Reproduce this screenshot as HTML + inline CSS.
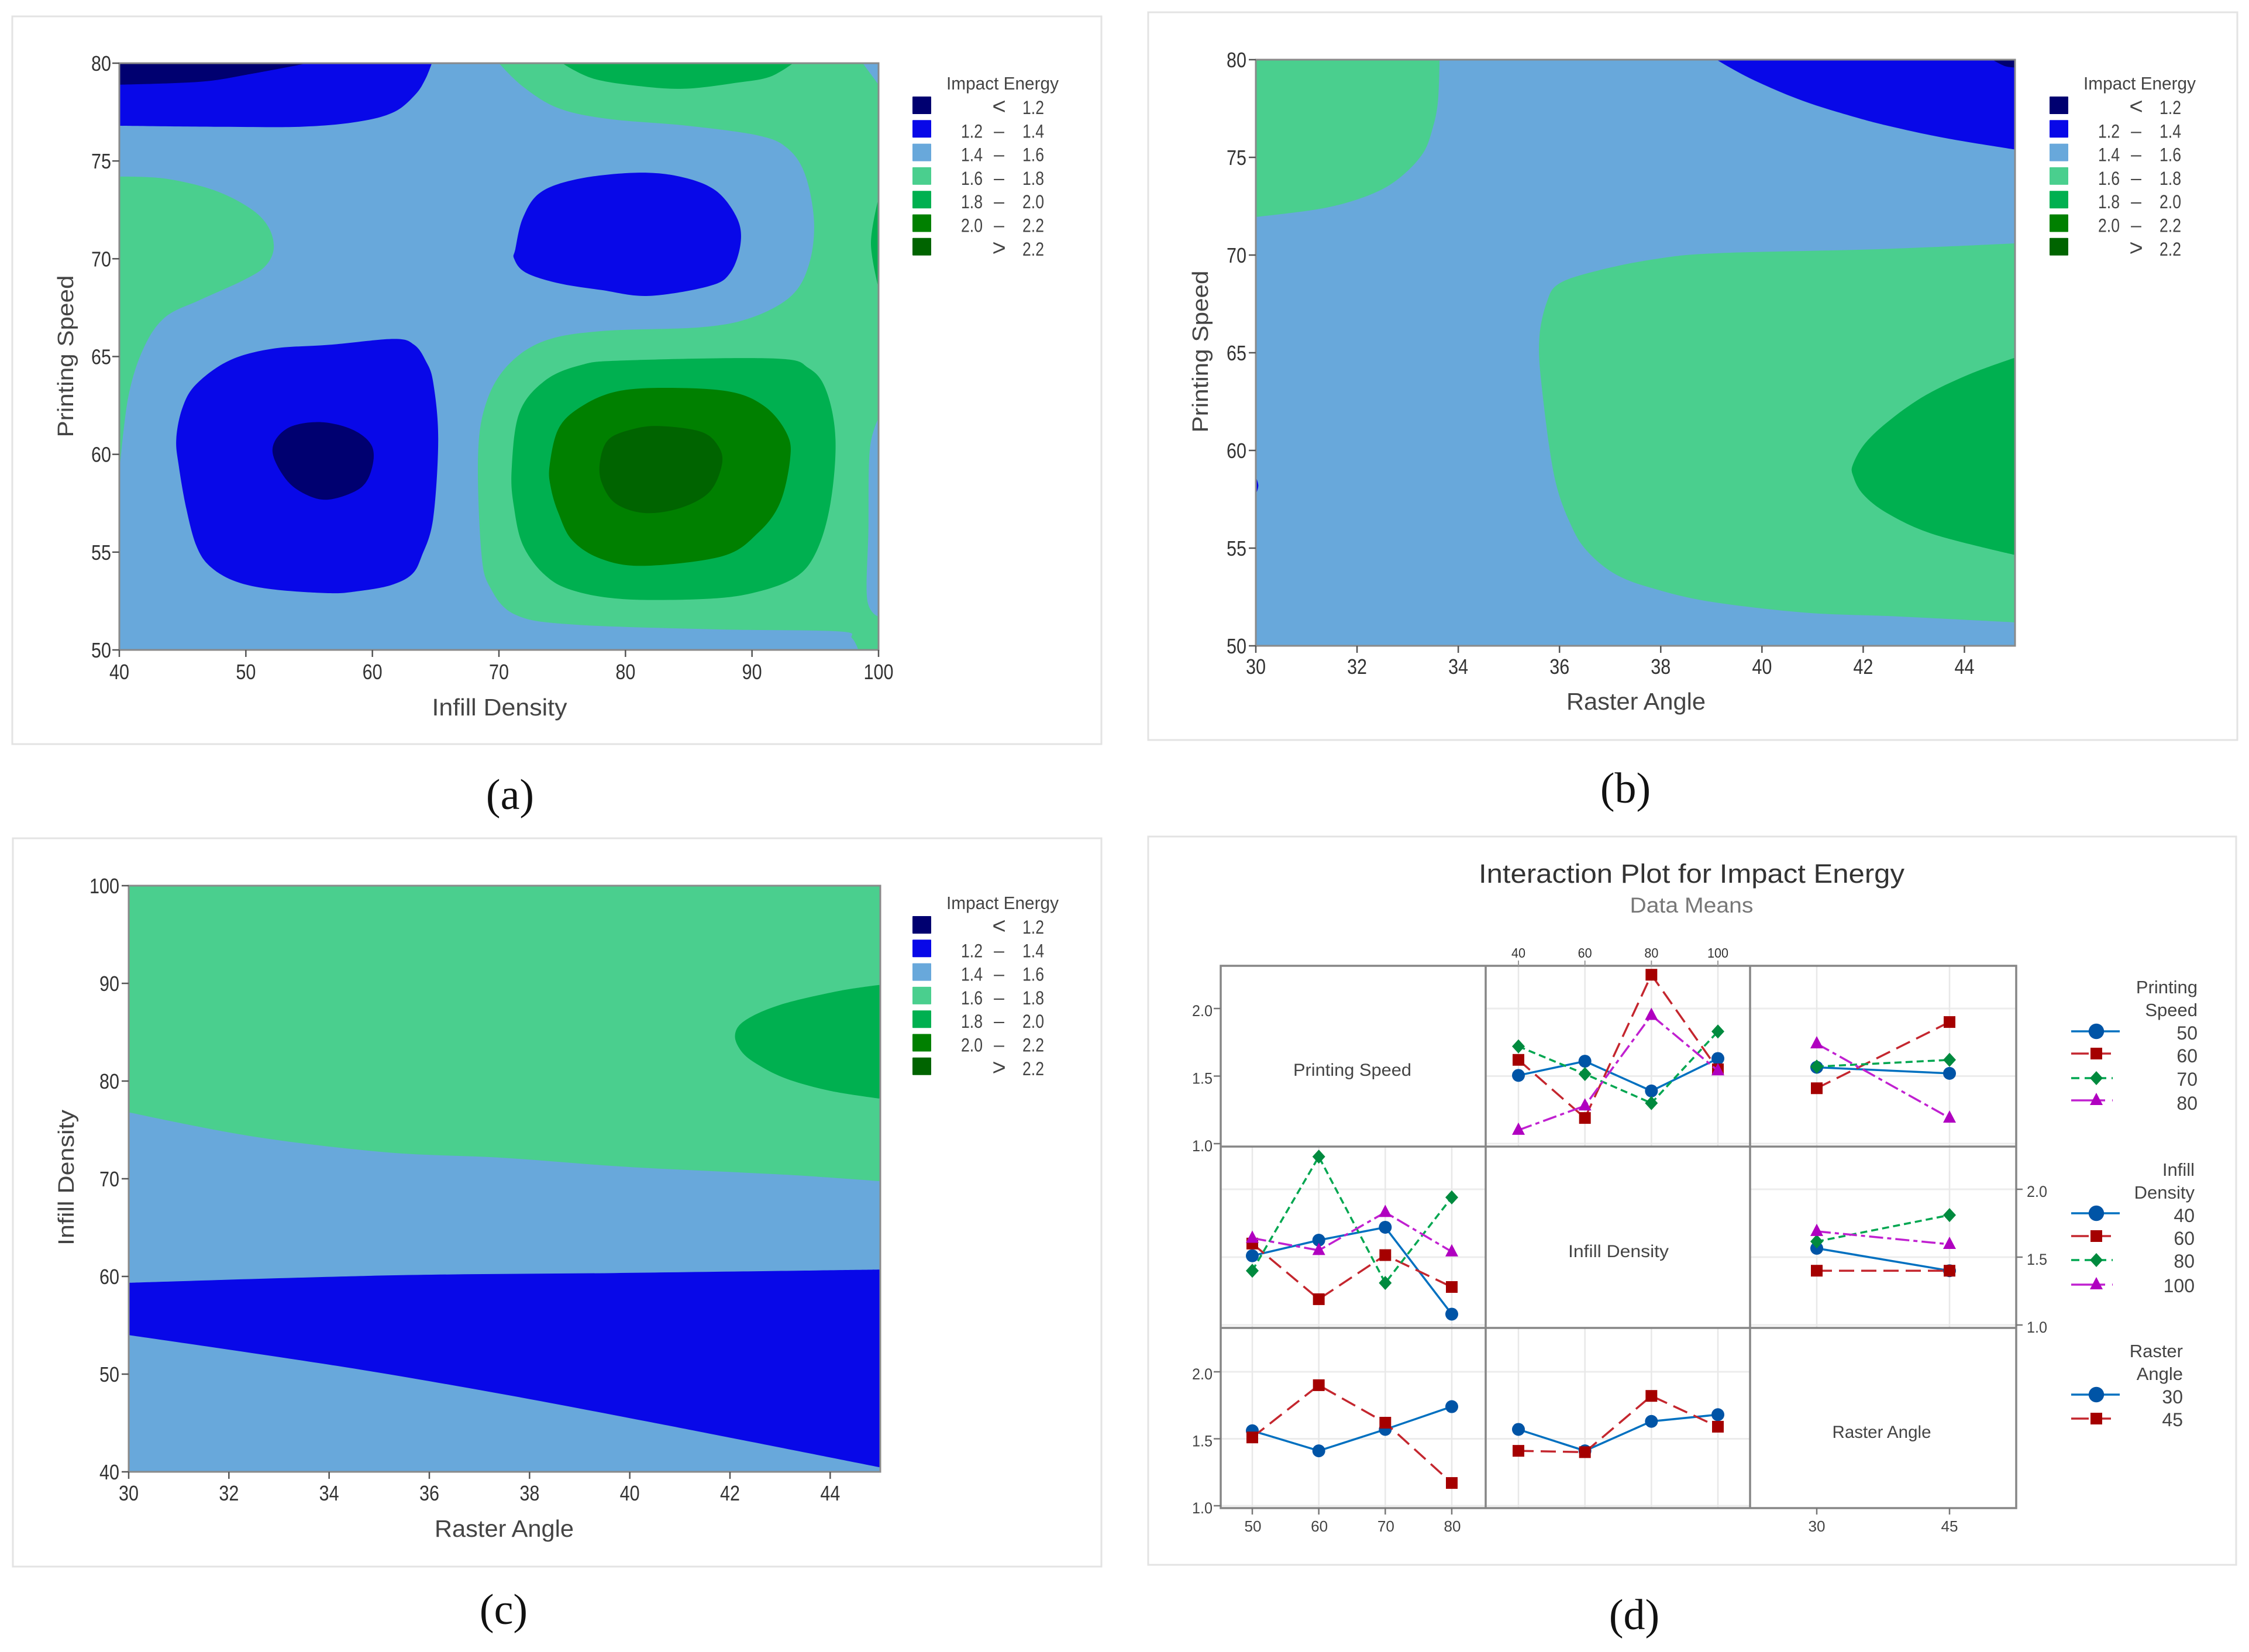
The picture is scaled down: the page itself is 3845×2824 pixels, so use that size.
<!DOCTYPE html>
<html lang="en">
<head>
<meta charset="utf-8">
<title>Impact Energy Contour and Interaction Plots</title>
<style>
html,body{margin:0;padding:0;background:#fff;}
svg{display:block;}
text{font-family:"Liberation Sans",sans-serif;}
.cap{font-family:"Liberation Serif",serif;font-size:74px;fill:#111;text-anchor:middle;}
.axt{font-size:41px;fill:#444;}
.cen{font-size:30px;fill:#444;}
.leg{font-size:31px;fill:#444;text-anchor:end;}
</style>
</head>
<body>
<svg id="fig" width="3845" height="2824" viewBox="0 0 3845 2824" xmlns="http://www.w3.org/2000/svg">
<rect x="0" y="0" width="3845" height="2824" fill="#fff"/>
<rect x="21" y="28" width="1862" height="1244" fill="#fff" stroke="#e3e3e3" stroke-width="3"/>
<rect x="1963" y="21" width="1862" height="1244" fill="#fff" stroke="#e3e3e3" stroke-width="3"/>
<rect x="22" y="1433" width="1861" height="1245" fill="#fff" stroke="#e3e3e3" stroke-width="3"/>
<rect x="1963" y="1430" width="1860" height="1245" fill="#fff" stroke="#e3e3e3" stroke-width="3"/>

<g id="layer-a"></g>
<g id="layer-b"></g>
<g id="layer-c"></g>
<g id="layer-d"></g>

<text class="axt" x="854" y="1223" text-anchor="middle" textLength="231" lengthAdjust="spacingAndGlyphs">Infill Density</text>
<text class="axt" transform="translate(125 609) rotate(-90)" text-anchor="middle" textLength="277" lengthAdjust="spacingAndGlyphs" style="font-size:38px">Printing Speed</text>
<text class="axt" x="2797" y="1213" text-anchor="middle" textLength="238" lengthAdjust="spacingAndGlyphs">Raster Angle</text>
<text class="axt" transform="translate(2065 601) rotate(-90)" text-anchor="middle" textLength="277" lengthAdjust="spacingAndGlyphs" style="font-size:38px">Printing Speed</text>
<text class="axt" x="862" y="2627" text-anchor="middle" textLength="238" lengthAdjust="spacingAndGlyphs">Raster Angle</text>
<text class="axt" transform="translate(126 2013) rotate(-90)" text-anchor="middle" textLength="232" lengthAdjust="spacingAndGlyphs" style="font-size:38px">Infill Density</text>

<text class="cap" x="872" y="1383">(a)</text>
<text class="cap" x="2779" y="1372">(b)</text>
<text class="cap" x="861" y="2776">(c)</text>
<text class="cap" x="2794" y="2785">(d)</text>

<text x="2892" y="1509" text-anchor="middle" font-size="45" fill="#333" textLength="728" lengthAdjust="spacingAndGlyphs">Interaction Plot for Impact Energy</text>
<text x="2892" y="1560" text-anchor="middle" font-size="37" fill="#777" textLength="211" lengthAdjust="spacingAndGlyphs">Data Means</text>

<text class="cen" x="2312" y="1839" text-anchor="middle" textLength="202" lengthAdjust="spacingAndGlyphs">Printing Speed</text>
<text class="cen" x="2767" y="2149" text-anchor="middle" textLength="172" lengthAdjust="spacingAndGlyphs">Infill Density</text>
<text class="cen" x="3217" y="2458" text-anchor="middle" textLength="169" lengthAdjust="spacingAndGlyphs">Raster Angle</text>

<text class="leg" x="3757" y="1698">Printing</text>
<text class="leg" x="3757" y="1737">Speed</text>
<text class="leg" x="3752" y="2010">Infill</text>
<text class="leg" x="3752" y="2049">Density</text>
<text class="leg" x="3732" y="2320">Raster</text>
<text class="leg" x="3732" y="2359">Angle</text>
</svg>

<script>
// ---------- contour legend data ----------
const contourColors = ['#000070', '#0808E8', '#68A8DB', '#4ACF8E', '#00B050', '#008000', '#006400'];
const legendLow = ['', '1.2', '1.4', '1.6', '1.8', '2.0', ''];
const legendMid = ['<', '–', '–', '–', '–', '–', '>'];
const legendHigh = ['1.2', '1.4', '1.6', '1.8', '2.0', '2.2', '2.2'];

// ---------- panel (a) contour boundaries: [infill density, printing speed] ----------
const aXTicks = [40, 50, 60, 70, 80, 90, 100];
const aYTicks = [50, 55, 60, 65, 70, 75, 80];
const aBlueTop = [[40,76.8],[47.5,76.75],[54.3,76.75],[58.8,77],[61.7,77.5],[63.4,78.4],[64.2,79.2],[64.7,80],[40,80]];
const aNavyTop = [[40,78.9],[46.4,79.05],[50.4,79.45],[54.9,80],[40,80]];
const aGreenLeft = [[40,74.2],[43.6,74.1],[47.5,73.5],[50.4,72.55],[51.8,71.6],[52.2,70.5],[51.5,69.6],[49.8,68.9],[46.4,67.9],[43.6,67],[41.9,65.4],[40.7,62.9],[40,59.1]];
const aBlueOval = [[71.3,70.5],[71.9,72.1],[73.3,73.4],[76.4,74.1],[80.9,74.4],[84.3,74.2],[87.1,73.5],[88.8,72.1],[89.1,70.8],[88.3,69.3],[86.6,68.6],[81.8,68.1],[78.1,68.4],[74.7,68.75],[72.1,69.3],[71.2,70]];
const aBlueLower = [[44.5,60.8],[45,62.4],[46.1,63.6],[48.7,64.8],[52.1,65.4],[56.6,65.6],[61.7,65.9],[63.3,65.6],[64.2,64.8],[64.8,63.7],[65.2,60.8],[64.8,56.7],[63.9,54.8],[63.1,53.85],[61.4,53.3],[58.8,53],[56.6,52.9],[52.1,53.1],[49.2,53.5],[47.2,54.25],[46.1,55.3],[45.3,57.2],[44.7,59.4]];
const aNavyBlob = [[52.1,60.2],[53.2,61.3],[55.7,61.65],[58.3,61.3],[59.9,60.5],[60,59.4],[59.1,58.3],[56.7,57.7],[54.9,57.9],[53.2,58.7]];
const aGreenMain = [[70,80],[71.9,78.8],[74.7,77.7],[78.65,77.15],[84.9,76.8],[90.5,76.3],[92.8,75.65],[94.2,74.3],[94.9,71.9],[94.5,69.7],[93.1,68.1],[90,67],[86,66.5],[78.1,66.3],[73.6,65.8],[70.7,64.55],[69,62.65],[68.35,59.95],[68.6,55.05],[69.3,53.2],[71.3,51.8],[75.8,51.3],[87.1,51.05],[96.8,50.95],[97.9,50.6],[98.4,50],[100,50],[100,78.9],[98.75,80]];
const aSliver = [[100,61.85],[99.3,60.2],[99.2,56.15],[99.1,52.6],[100,51.7]];
const aGreenTop = [[75,80],[77.5,79.2],[81.5,78.8],[84.9,78.7],[88.8,79],[91.4,79.3],[93.25,80]];
const aGreenEdge = [[100,73.1],[99.4,70.8],[100,68.5]];
const aLevel18 = [[71,59.15],[71.6,62.1],[73.6,63.75],[76.4,64.55],[79.8,64.8],[91.7,64.9],[94.5,64.4],[95.9,63.2],[96.6,60.75],[96.2,57.5],[95.1,55.05],[93.4,53.7],[90,52.9],[86,52.6],[79.8,52.6],[75.8,53.05],[73.6,53.85],[71.9,55.35],[71.2,57.25]];
const aLevel20 = [[74,59.4],[74.7,61.3],[76.4,62.4],[79.2,63.2],[83.2,63.4],[88.3,63.2],[91.1,62.4],[92.8,61],[93,59.7],[92.2,57.5],[90.5,56],[87.7,54.8],[81.5,54.3],[78.1,54.65],[75.8,55.6],[74.7,57],[74.1,58.3]];
const aLevel22 = [[78,59.7],[78.65,60.75],[80.35,61.25],[82.6,61.45],[86,61.15],[87.4,60.35],[87.6,59.4],[86.6,58.05],[84.3,57.25],[81.5,57],[79.2,57.5],[78.1,58.6]];

// ---------- panel (b) contour boundaries: [raster angle, printing speed] ----------
const bXTicks = [30, 32, 34, 36, 38, 40, 42, 44];
const bYTicks = [50, 55, 60, 65, 70, 75, 80];
const bGreenTop = [[30,80],[33.63,80],[33.6,77.9],[33.5,76.55],[33.3,75.2],[32.84,73.95],[32.27,73.1],[31.35,72.4],[30,71.95]];
const bBlueTop = [[39.1,80],[39.8,79],[40.8,77.9],[41.85,77.05],[42.6,76.55],[43.7,75.95],[45,75.4],[45,80]];
const bNavyCorner = [[44.55,80],[44.8,79.67],[45,79.6],[45,80]];
const bGreenMain = [[45,70.6],[42.3,70.3],[39.15,70.1],[37.9,69.8],[36.75,69.2],[36,68.55],[35.75,67.6],[35.6,65.7],[35.65,63.25],[35.9,58.65],[36.25,56.05],[36.6,54.7],[37.15,53.6],[37.9,52.9],[39,52.25],[40.85,51.7],[42.7,51.5],[45,51.2]];
const bLevel18 = [[45,64.75],[44.1,63.9],[43.25,62.85],[42.55,61.6],[42.05,60.4],[41.8,59.3],[41.8,58.7],[42,57.75],[42.5,56.75],[43.4,55.7],[45,54.65]];
const bBlueDot = [[30,58.65],[30.05,58.2],[30,57.75]];

// ---------- panel (c) contour boundaries: [raster angle, infill density] ----------
const cXTicks = [30, 32, 34, 36, 38, 40, 42, 44];
const cYTicks = [40, 50, 60, 70, 80, 90, 100];
const cGreenMain = [[30,100],[45,100],[45,69.75],[43.15,70.4],[40,71.2],[37.45,72.15],[35.15,72.7],[32.45,74.35],[30,76.8]];
const cBlueBand = [[30,59.35],[35.15,60.1],[39.7,60.35],[45,60.7],[45,40.45],[42,43.5],[40,45.5],[37.3,48.1],[34.15,50.85],[30,54]];
const cLevel18 = [[45,89.85],[44.15,89.2],[43,87.8],[42.3,86.2],[42.1,84.65],[42.25,82.9],[42.6,81.55],[43.15,80.2],[44,79],[45,78.2]];

// ---------- panel (d) interaction means ----------
const speedLevels = [50, 60, 70, 80];
const infillLevels = [40, 60, 80, 100];
const rasterLevels = [30, 45];
const gridValues = [1.0, 1.5, 2.0];
const sideTicks = ['1.0', '1.5', '2.0'];

const infillAtSpeed50 = [1.505, 1.61, 1.39, 1.63];
const infillAtSpeed60 = [1.62, 1.19, 2.25, 1.55];
const infillAtSpeed70 = [1.72, 1.515, 1.30, 1.83];
const infillAtSpeed80 = [1.10, 1.28, 1.95, 1.54];

const rasterAtSpeed50 = [1.565, 1.52];
const rasterAtSpeed60 = [1.41, 1.90];
const rasterAtSpeed70 = [1.57, 1.62];
const rasterAtSpeed80 = [1.74, 1.19];

const speedAtInfill40 = [1.51, 1.625, 1.72, 1.08];
const speedAtInfill60 = [1.60, 1.19, 1.515, 1.28];
const speedAtInfill80 = [1.40, 2.24, 1.31, 1.94];
const speedAtInfill100 = [1.64, 1.55, 1.83, 1.54];

const rasterAtInfill40 = [1.565, 1.40];
const rasterAtInfill60 = [1.40, 1.40];
const rasterAtInfill80 = [1.615, 1.81];
const rasterAtInfill100 = [1.69, 1.595];

const speedAtRaster30 = [1.56, 1.41, 1.57, 1.74];
const speedAtRaster45 = [1.51, 1.90, 1.62, 1.17];
const infillAtRaster30 = [1.57, 1.41, 1.63, 1.68];
const infillAtRaster45 = [1.41, 1.40, 1.82, 1.59];

const legendSpeedLabels = ['50', '60', '70', '80'];
const legendInfillLabels = ['40', '60', '80', '100'];
const legendRasterLabels = ['30', '45'];

// ---------- helpers ----------
const SVGNS = 'http://www.w3.org/2000/svg';
function mk(tag, parent, name, attrs) {
  const el = document.createElementNS(SVGNS, tag);
  
  
  for (const k in attrs) el.setAttribute(k, attrs[k]);
  parent.appendChild(el);
  return el;
}
function label(parent, name, str, attrs) {
  const t = mk('text', parent, name, attrs);
  t.textContent = str;
  return t;
}
function linear(d0, d1, r0, r1) {
  return v => r0 + (v - d0) * (r1 - r0) / (d1 - d0);
}
function polyPath(pts) {
  return 'M' + pts.map(p => p[0].toFixed(1) + ' ' + p[1].toFixed(1)).join('L') + 'Z';
}
// Closed Catmull-Rom spline; vertices lying on the plot border stay sharp corners.
function smoothPath(pts, onEdge) {
  const n = pts.length;
  let d = 'M' + pts[0][0].toFixed(1) + ' ' + pts[0][1].toFixed(1);
  for (let i = 0; i < n; i++) {
    const p0 = pts[(i - 1 + n) % n], p1 = pts[i], p2 = pts[(i + 1) % n], p3 = pts[(i + 2) % n];
    const c1 = onEdge(p1) ? p1 : [p1[0] + (p2[0] - p0[0]) / 6, p1[1] + (p2[1] - p0[1]) / 6];
    const c2 = onEdge(p2) ? p2 : [p2[0] - (p3[0] - p1[0]) / 6, p2[1] - (p3[1] - p1[1]) / 6];
    d += 'C' + c1[0].toFixed(1) + ' ' + c1[1].toFixed(1) + ' ' +
         c2[0].toFixed(1) + ' ' + c2[1].toFixed(1) + ' ' +
         p2[0].toFixed(1) + ' ' + p2[1].toFixed(1);
  }
  return d + 'Z';
}

function contourPanel(cfg) {
  const root = document.getElementById(cfg.layer);
  const sx = linear(cfg.xDomain[0], cfg.xDomain[1], cfg.left, cfg.right);
  const sy = linear(cfg.yDomain[0], cfg.yDomain[1], cfg.bottom, cfg.top);
  const w = cfg.right - cfg.left, h = cfg.bottom - cfg.top;
  const onEdge = p => Math.abs(p[0] - cfg.left) < 0.5 || Math.abs(p[0] - cfg.right) < 0.5 || Math.abs(p[1] - cfg.top) < 0.5 || Math.abs(p[1] - cfg.bottom) < 0.5;
  const clip = mk('clipPath', root, cfg.id + '-clip', { id: cfg.id + '-clip' });
  mk('rect', clip, cfg.id + '-clip-rect', { x: cfg.left, y: cfg.top, width: w, height: h });
  const plot = mk('g', root, cfg.id + '-plot-area', { 'clip-path': 'url(#' + cfg.id + '-clip)' });
  mk('rect', plot, cfg.id + '-region-base', { x: cfg.left, y: cfg.top, width: w, height: h, fill: contourColors[2] });
  cfg.regions.forEach(r => {
    const pts = r.pts.map(p => [sx(p[0]), sy(p[1])]);
    mk('path', plot, cfg.id + '-region-' + r.name, { d: smoothPath(pts, onEdge), fill: contourColors[r.level] });
  });
  mk('path', root, cfg.id + '-plot-border', {
    d: polyPath([[cfg.left, cfg.top], [cfg.right, cfg.top], [cfg.right, cfg.bottom], [cfg.left, cfg.bottom]]),
    fill: 'none', stroke: '#8a8a8a', 'stroke-width': 3
  });
  cfg.xTicks.forEach(v => {
    const x = sx(v);
    mk('line', root, cfg.id + '-x-tick-' + v, { x1: x, x2: x, y1: cfg.bottom, y2: cfg.bottom + 12, stroke: '#555', 'stroke-width': 2.5 });
    const s = String(v);
    label(root, cfg.id + '-x-tick-label-' + v, s, { x: x, y: cfg.xLabelY, 'text-anchor': 'middle', 'font-size': 36, fill: '#333', textLength: s.length * 17, lengthAdjust: 'spacingAndGlyphs' });
  });
  cfg.yTicks.forEach(v => {
    const y = sy(v);
    mk('line', root, cfg.id + '-y-tick-' + v, { x1: cfg.left - 12, x2: cfg.left, y1: y, y2: y, stroke: '#555', 'stroke-width': 2.5 });
    const s = String(v);
    label(root, cfg.id + '-y-tick-label-' + v, s, { x: cfg.yLabelX, y: y + 13, 'text-anchor': 'end', 'font-size': 36, fill: '#333', textLength: s.length * 17, lengthAdjust: 'spacingAndGlyphs' });
  });
  // legend
  const lg = mk('g', root, cfg.id + '-legend', { transform: 'translate(' + cfg.legendDx + ' ' + cfg.legendDy + ')' });
  label(lg, cfg.id + '-legend-title', 'Impact Energy', { x: 1618, y: 153, 'font-size': 31, fill: '#444', textLength: 192, lengthAdjust: 'spacingAndGlyphs' });
  contourColors.forEach((c, i) => {
    const top = 165 + i * 40.3, base = 195 + i * 40.3;
    mk('rect', lg, cfg.id + '-legend-swatch-' + i, { x: 1560, y: top, width: 32, height: 30, fill: c, rx: 1 });
    if (legendLow[i]) {
      label(lg, cfg.id + '-legend-low-' + i, legendLow[i], { x: 1680, y: base, 'text-anchor': 'end', 'font-size': 32, fill: '#444', textLength: 37, lengthAdjust: 'spacingAndGlyphs' });
    }
    label(lg, cfg.id + '-legend-sep-' + i, legendMid[i], { x: 1708, y: base - (legendLow[i] ? 1 : 0), 'text-anchor': 'middle', 'font-size': legendLow[i] ? 32 : 40, fill: '#444' });
    label(lg, cfg.id + '-legend-high-' + i, legendHigh[i], { x: 1785, y: base, 'text-anchor': 'end', 'font-size': 32, fill: '#444', textLength: 37, lengthAdjust: 'spacingAndGlyphs' });
  });
}

contourPanel({
  id: 'panel-a', layer: 'layer-a', left: 204, right: 1502, top: 108, bottom: 1111,
  xDomain: [40, 100], yDomain: [50, 80], xTicks: aXTicks, yTicks: aYTicks,
  xLabelY: 1161, yLabelX: 190, legendDx: 0, legendDy: 0,
  regions: [
    { name: 'blue-top', pts: aBlueTop, level: 1 },
    { name: 'navy-top', pts: aNavyTop, level: 0 },
    { name: 'green-left', pts: aGreenLeft, level: 3 },
    { name: 'blue-oval', pts: aBlueOval, level: 1 },
    { name: 'blue-lower', pts: aBlueLower, level: 1 },
    { name: 'navy-blob', pts: aNavyBlob, level: 0 },
    { name: 'green-main', pts: aGreenMain, level: 3 },
    { name: 'blue-sliver', pts: aSliver, level: 2 },
    { name: 'green-top', pts: aGreenTop, level: 4 },
    { name: 'green-edge', pts: aGreenEdge, level: 4 },
    { name: 'level-1-8', pts: aLevel18, level: 4 },
    { name: 'level-2-0', pts: aLevel20, level: 5 },
    { name: 'level-2-2', pts: aLevel22, level: 6 }
  ]
});
contourPanel({
  id: 'panel-b', layer: 'layer-b', left: 2147, right: 3445, top: 102, bottom: 1104,
  xDomain: [30, 45], yDomain: [50, 80], xTicks: bXTicks, yTicks: bYTicks,
  xLabelY: 1152, yLabelX: 2131, legendDx: 1944, legendDy: 0,
  regions: [
    { name: 'green-top', pts: bGreenTop, level: 3 },
    { name: 'blue-top', pts: bBlueTop, level: 1 },
    { name: 'navy-corner', pts: bNavyCorner, level: 0 },
    { name: 'green-main', pts: bGreenMain, level: 3 },
    { name: 'level-1-8', pts: bLevel18, level: 4 },
    { name: 'blue-dot', pts: bBlueDot, level: 1 }
  ]
});
contourPanel({
  id: 'panel-c', layer: 'layer-c', left: 220, right: 1505, top: 1514, bottom: 2516,
  xDomain: [30, 45], yDomain: [40, 100], xTicks: cXTicks, yTicks: cYTicks,
  xLabelY: 2565, yLabelX: 204, legendDx: 0, legendDy: 1401,
  regions: [
    { name: 'green-main', pts: cGreenMain, level: 3 },
    { name: 'blue-band', pts: cBlueBand, level: 1 },
    { name: 'level-1-8', pts: cLevel18, level: 4 }
  ]
});

// ---------- interaction plot ----------
const layerD = document.getElementById('layer-d');
const colSpeed = linear(50, 80, 2141, 2482);
const colInfill = linear(40, 100, 2596, 2937);
const colRaster = linear(30, 45, 3106, 3333);
const row1 = linear(1, 2, 1955, 1724);
const row2 = linear(1, 2, 2265, 2033);
const row3 = linear(1, 2, 2574, 2345);
const frameL = 2087, frameV1 = 2540, frameV2 = 2992, frameR = 3447;
const frameT = 1651, frameH1 = 1960, frameH2 = 2270, frameB = 2578;

const styleBlue = { color: '#0070C0', dash: '', marker: 'circle', fill: '#0054A6' };
const styleRed = { color: '#C4262E', dash: '26 12', marker: 'square', fill: '#A50000' };
const styleGreen = { color: '#00A650', dash: '12 7', marker: 'diamond', fill: '#008A3E' };
const styleMagenta = { color: '#C020D0', dash: '24 7 7 7', marker: 'triangle', fill: '#B000C0' };

function marker(parent, name, x, y, st, scale) {
  const s = scale || 1;
  if (st.marker === 'circle') {
    mk('circle', parent, name, { cx: x, cy: y, r: 11 * s, fill: st.fill });
  } else if (st.marker === 'square') {
    mk('rect', parent, name, { x: x - 10 * s, y: y - 10 * s, width: 20 * s, height: 20 * s, fill: st.fill });
  } else if (st.marker === 'diamond') {
    mk('path', parent, name, { d: polyPath([[x, y - 12 * s], [x + 11 * s, y], [x, y + 12 * s], [x - 11 * s, y]]), fill: st.fill });
  } else {
    mk('path', parent, name, { d: polyPath([[x, y - 13 * s], [x + 11 * s, y + 8 * s], [x - 11 * s, y + 8 * s]]), fill: st.fill });
  }
}
function cellGrid(name, xs, sx, sy, l, r, t, b) {
  const g = mk('g', layerD, name + '-grid', {});
  gridValues.forEach(v => {
    mk('line', g, name + '-h-grid-' + v, { x1: l, x2: r, y1: sy(v), y2: sy(v), stroke: '#ececec', 'stroke-width': 3 });
  });
  xs.forEach(v => {
    mk('line', g, name + '-v-grid-' + v, { x1: sx(v), x2: sx(v), y1: t, y2: b, stroke: '#e8e8e8', 'stroke-width': 2.5 });
  });
}
function series(name, xs, ys, sx, sy, st) {
  const g = mk('g', layerD, name, {});
  const pts = xs.map((v, i) => [sx(v), sy(ys[i])]);
  const attrs = { d: 'M' + pts.map(p => p[0].toFixed(1) + ' ' + p[1].toFixed(1)).join('L'), fill: 'none', stroke: st.color, 'stroke-width': 3.5 };
  if (st.dash) attrs['stroke-dasharray'] = st.dash;
  mk('path', g, name + '-line', attrs);
  pts.forEach((p, i) => marker(g, name + '-point-' + xs[i], p[0], p[1], st));
}

cellGrid('cell-speed-infill', infillLevels, colInfill, row1, frameV1, frameV2, frameT, frameH1);
cellGrid('cell-speed-raster', rasterLevels, colRaster, row1, frameV2, frameR, frameT, frameH1);
cellGrid('cell-infill-speed', speedLevels, colSpeed, row2, frameL, frameV1, frameH1, frameH2);
cellGrid('cell-infill-raster', rasterLevels, colRaster, row2, frameV2, frameR, frameH1, frameH2);
cellGrid('cell-raster-speed', speedLevels, colSpeed, row3, frameL, frameV1, frameH2, frameB);
cellGrid('cell-raster-infill', infillLevels, colInfill, row3, frameV1, frameV2, frameH2, frameB);

series('speed-50-by-infill', infillLevels, infillAtSpeed50, colInfill, row1, styleBlue);
series('speed-60-by-infill', infillLevels, infillAtSpeed60, colInfill, row1, styleRed);
series('speed-70-by-infill', infillLevels, infillAtSpeed70, colInfill, row1, styleGreen);
series('speed-80-by-infill', infillLevels, infillAtSpeed80, colInfill, row1, styleMagenta);

series('speed-50-by-raster', rasterLevels, rasterAtSpeed50, colRaster, row1, styleBlue);
series('speed-60-by-raster', rasterLevels, rasterAtSpeed60, colRaster, row1, styleRed);
series('speed-70-by-raster', rasterLevels, rasterAtSpeed70, colRaster, row1, styleGreen);
series('speed-80-by-raster', rasterLevels, rasterAtSpeed80, colRaster, row1, styleMagenta);

series('infill-40-by-speed', speedLevels, speedAtInfill40, colSpeed, row2, styleBlue);
series('infill-60-by-speed', speedLevels, speedAtInfill60, colSpeed, row2, styleRed);
series('infill-80-by-speed', speedLevels, speedAtInfill80, colSpeed, row2, styleGreen);
series('infill-100-by-speed', speedLevels, speedAtInfill100, colSpeed, row2, styleMagenta);

series('infill-40-by-raster', rasterLevels, rasterAtInfill40, colRaster, row2, styleBlue);
series('infill-60-by-raster', rasterLevels, rasterAtInfill60, colRaster, row2, styleRed);
series('infill-80-by-raster', rasterLevels, rasterAtInfill80, colRaster, row2, styleGreen);
series('infill-100-by-raster', rasterLevels, rasterAtInfill100, colRaster, row2, styleMagenta);

series('raster-30-by-speed', speedLevels, speedAtRaster30, colSpeed, row3, styleBlue);
series('raster-45-by-speed', speedLevels, speedAtRaster45, colSpeed, row3, styleRed);
series('raster-30-by-infill', infillLevels, infillAtRaster30, colInfill, row3, styleBlue);
series('raster-45-by-infill', infillLevels, infillAtRaster45, colInfill, row3, styleRed);

// frame of the matrix
const frameG = mk('g', layerD, 'matrix-frame', {});
mk('rect', frameG, 'matrix-outer-border', { x: frameL, y: frameT, width: frameR - frameL, height: frameB - frameT, fill: 'none', stroke: '#868686', 'stroke-width': 3.5 });
[frameV1, frameV2].forEach((x, i) => {
  mk('line', frameG, 'matrix-column-divider-' + (i + 1), { x1: x, x2: x, y1: frameT, y2: frameB, stroke: '#868686', 'stroke-width': 3.5 });
});
[frameH1, frameH2].forEach((y, i) => {
  mk('line', frameG, 'matrix-row-divider-' + (i + 1), { x1: frameL, x2: frameR, y1: y, y2: y, stroke: '#868686', 'stroke-width': 3.5 });
});

// axis ticks
const axisG = mk('g', layerD, 'matrix-axes', {});
[row1, row3].forEach((sy, r) => {
  gridValues.forEach((v, i) => {
    mk('line', axisG, 'left-tick-row' + (r ? 3 : 1) + '-' + v, { x1: frameL - 12, x2: frameL, y1: sy(v), y2: sy(v), stroke: '#777', 'stroke-width': 2.5 });
    label(axisG, 'left-tick-label-row' + (r ? 3 : 1) + '-' + v, sideTicks[i], { x: 2073, y: sy(v) + 13, 'text-anchor': 'end', 'font-size': 27, fill: '#444', textLength: 35, lengthAdjust: 'spacingAndGlyphs' });
  });
});
gridValues.forEach((v, i) => {
  mk('line', axisG, 'right-tick-' + v, { x1: frameR, x2: frameR + 11, y1: row2(v), y2: row2(v), stroke: '#777', 'stroke-width': 2.5 });
  label(axisG, 'right-tick-label-' + v, sideTicks[i], { x: 3465, y: row2(v) + 13, 'font-size': 27, fill: '#444', textLength: 35, lengthAdjust: 'spacingAndGlyphs' });
});
infillLevels.forEach(v => {
  const s = String(v);
  mk('line', axisG, 'top-tick-' + v, { x1: colInfill(v), x2: colInfill(v), y1: frameT - 9, y2: frameT, stroke: '#999', 'stroke-width': 2 });
  label(axisG, 'top-tick-label-' + v, s, { x: colInfill(v), y: 1637, 'text-anchor': 'middle', 'font-size': 23, fill: '#333', textLength: s.length * 12, lengthAdjust: 'spacingAndGlyphs' });
});
speedLevels.forEach(v => {
  mk('line', axisG, 'bottom-tick-' + v, { x1: colSpeed(v), x2: colSpeed(v), y1: frameB, y2: frameB + 11, stroke: '#777', 'stroke-width': 2.5 });
  label(axisG, 'bottom-tick-label-' + v, String(v), { x: colSpeed(v) + 1, y: 2618, 'text-anchor': 'middle', 'font-size': 26, fill: '#444', textLength: 29, lengthAdjust: 'spacingAndGlyphs' });
});
rasterLevels.forEach(v => {
  mk('line', axisG, 'bottom-tick-raster-' + v, { x1: colRaster(v), x2: colRaster(v), y1: frameB, y2: frameB + 11, stroke: '#777', 'stroke-width': 2.5 });
  label(axisG, 'bottom-tick-label-raster-' + v, String(v), { x: colRaster(v), y: 2618, 'text-anchor': 'middle', 'font-size': 26, fill: '#444', textLength: 29, lengthAdjust: 'spacingAndGlyphs' });
});

// side legends
function sideLegend(name, labels, styles, textRight, lineYs, baseYs) {
  const g = mk('g', layerD, name, {});
  labels.forEach((s, i) => {
    const st = styles[i];
    const attrs = { x1: 3541, x2: st.marker === 'circle' ? 3624 : (st.marker === 'square' ? 3609 : 3612), y1: lineYs[i], y2: lineYs[i], stroke: st.color, 'stroke-width': 3.5 };
    if (st.dash) attrs['stroke-dasharray'] = st.marker === 'square' ? '30 13 40' : (st.marker === 'diamond' ? '14 9' : '42 6 10 12');
    mk('line', g, name + '-line-' + s, attrs);
    marker(g, name + '-marker-' + s, 3584, lineYs[i], st, st.marker === 'circle' ? 1.2 : 1);
    label(g, name + '-label-' + s, s, { x: textRight, y: baseYs[i], 'text-anchor': 'end', 'font-size': 32, fill: '#444' });
  });
}
const speedLegendLineY = [1763, 1801, 1843, 1881];
const speedLegendTextY = [1777, 1816, 1856, 1897];
const infillLegendLineY = [2074, 2113, 2154, 2196];
const infillLegendTextY = [2089, 2128, 2167, 2209];
const rasterLegendLineY = [2384, 2425];
const rasterLegendTextY = [2399, 2438];
sideLegend('legend-printing-speed', legendSpeedLabels, [styleBlue, styleRed, styleGreen, styleMagenta], 3757, speedLegendLineY, speedLegendTextY);
sideLegend('legend-infill-density', legendInfillLabels, [styleBlue, styleRed, styleGreen, styleMagenta], 3752, infillLegendLineY, infillLegendTextY);
sideLegend('legend-raster-angle', legendRasterLabels, [styleBlue, styleRed], 3732, rasterLegendLineY, rasterLegendTextY);
</script>
</body>
</html>
